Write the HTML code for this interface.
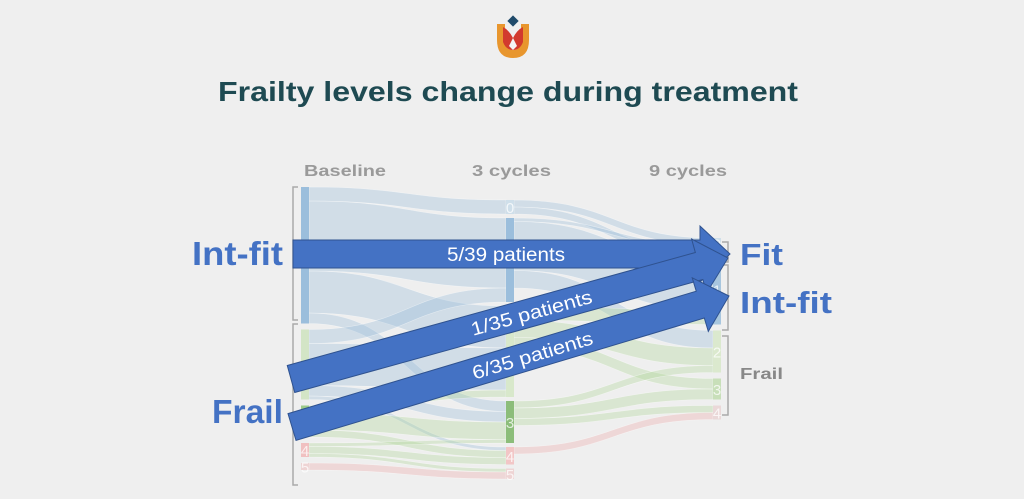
<!DOCTYPE html>
<html><head><meta charset="utf-8"><style>
html,body{margin:0;padding:0;background:#efefef;}
svg{display:block;font-family:"Liberation Sans",sans-serif;}
</style></head><body>
<svg id="chart" width="1024" height="499" viewBox="0 0 1024 499" xmlns="http://www.w3.org/2000/svg">
<rect width="1024" height="499" fill="#efefef"/>
<g>
  <path d="M497 24 L505 24 L505 40 Q505 50 513 50 Q521 50 521 40 L521 24 L529 24 L529 40 Q529 58 513 58 Q497 58 497 40 Z" fill="#e8962e"/>
  <path d="M503 27 Q509 30 513 38 Q517 30 523 27 L523 42 Q520 50 513 50 Q506 50 503 42 Z" fill="#d23a2e"/>
  <path d="M513 38 L509 46 L513 50 L517 46 Z" fill="#f5f5f5"/>
  <rect x="509" y="17" width="8" height="8" transform="rotate(45 513 21)" fill="#1f4a6a"/>
</g>
<text x="218" y="101" font-size="28" font-weight="bold" fill="#1e4a52" textLength="580" lengthAdjust="spacingAndGlyphs">Frailty levels change during treatment</text>
<g id="headers" fill="#9a9a9a" font-size="16" font-weight="bold">
  <text x="304" y="176" textLength="82" lengthAdjust="spacingAndGlyphs">Baseline</text>
  <text x="472" y="176" textLength="79" lengthAdjust="spacingAndGlyphs">3 cycles</text>
  <text x="649" y="176" textLength="78" lengthAdjust="spacingAndGlyphs">9 cycles</text>
</g>
<g id="flows"></g>
<g id="nodes"></g>
<g fill="none" stroke="#aaa" stroke-width="1.5">
  <path d="M298 187 H293 V320 H298"/>
  <path d="M298 324 H293 V485 H298"/>
  <path d="M722 242 H728 V262 H722"/>
  <path d="M722 265 H728 V330 H722"/>
  <path d="M722 336 H728 V415 H722"/>
</g>
<g id="arrows"></g>
<g font-weight="bold" fill="#4472c4">
  <text x="192" y="265" font-size="33" textLength="91" lengthAdjust="spacingAndGlyphs">Int-fit</text>
  <text x="212" y="423" font-size="33" textLength="71" lengthAdjust="spacingAndGlyphs">Frail</text>
  <text x="740" y="265" font-size="31" textLength="43" lengthAdjust="spacingAndGlyphs">Fit</text>
  <text x="740" y="313" font-size="31" textLength="92" lengthAdjust="spacingAndGlyphs">Int-fit</text>
</g>
<text x="740" y="379" font-size="16" font-weight="bold" fill="#888" textLength="43" lengthAdjust="spacingAndGlyphs">Frail</text>
</svg>
<script>
const NS='http://www.w3.org/2000/svg';
// node values (patients) per column
const baselineNodes=['1','2','3','4','5'];
const baselineValues=[39,20,9,4,2];
const cycle3Nodes=['0','1','2','3','4','5'];
const cycle3Values=[4,24,26,12,5,3];
const cycle9Nodes=['0','1','2','3','4'];
const cycle9Values=[3,20,12,6,4];
// flows: source index, target index, value
const flowsA_src=[0,0,0,0,1,1,1,1,2,2,2,3,3,3,4];
const flowsA_tgt=[0,1,2,3,1,2,3,4,2,3,4,3,4,5,5];
const flowsA_val=[4,20,12,3,4,12,3,1,2,5,2,1,2,1,2];
const flowsB_src=[0,0,1,1,1,2,2,2,3,3,3,4];
const flowsB_tgt=[0,1,0,1,2,1,2,3,2,3,4,4];
const flowsB_val=[2,2,1,14,5,4,5,3,2,3,2,2];
const arrowLabels=['5/39 patients','1/35 patients','6/35 patients'];

const S=3.5;
const colX=[305,510,717];
const colTop=[187,200,238];
const colGap=[6,4,6];
const nodeColors=[['#9bbedc','#d3e5c6','#9cca8a','#f0c0c0','#eed4d4'],
 ['#cfdfea','#9bbedc','#d8e8cb','#8cbd7a','#f2c6c6','#eed4d4'],
 ['#cfdfea','#a8c6de','#dbe9ce','#c8dfb9','#ead8d8']];
function flowColor(i){return i<=1?'rgba(150,185,215,0.33)':(i<=3?'rgba(170,210,145,0.32)':'rgba(235,160,160,0.3)');}
function layout(vals,c){let y=colTop[c];return vals.map(v=>{const o={y:y,h:v*S};y+=v*S+colGap[c];return o;});}
const cols=[layout(baselineValues,0),layout(cycle3Values,1),layout(cycle9Values,2)];
const fg=document.getElementById('flows'),ng=document.getElementById('nodes');
function drawFlows(src,tgt,val,c,tag){
  const outOff=cols[c].map(()=>0),inOff=cols[c+1].map(()=>0);
  const x0=colX[c]+4,x1=colX[c+1]-4,mx=(x0+x1)/2;
  src.forEach((s,i)=>{
    const t=tgt[i],h=val[i]*S;
    const y0=cols[c][s].y+outOff[s],y1=cols[c+1][t].y+inOff[t];
    outOff[s]+=h;inOff[t]+=h;
    const p=document.createElementNS(NS,'path');
    p.setAttribute('d',`M${x0} ${y0} C${mx} ${y0} ${mx} ${y1} ${x1} ${y1} L${x1} ${y1+h} C${mx} ${y1+h} ${mx} ${y0+h} ${x0} ${y0+h} Z`);
    p.setAttribute('fill',flowColor(s));
    p.setAttribute('stroke','rgba(255,255,255,0.5)');p.setAttribute('stroke-width','0.6');
    
    
    fg.appendChild(p);
  });
}
drawFlows(flowsA_src,flowsA_tgt,flowsA_val,0,'baseline-to-3cycles');
drawFlows(flowsB_src,flowsB_tgt,flowsB_val,1,'3cycles-to-9cycles');
const labelsAll=[baselineNodes,cycle3Nodes,cycle9Nodes];
cols.forEach((col,c)=>col.forEach((n,i)=>{
  const r=document.createElementNS(NS,'rect');
  r.setAttribute('x',colX[c]-4);r.setAttribute('y',n.y);r.setAttribute('width',8);r.setAttribute('height',n.h);
  r.setAttribute('fill',nodeColors[c][i]);
  
  
  ng.appendChild(r);
  const t=document.createElementNS(NS,'text');
  t.setAttribute('x',colX[c]);t.setAttribute('y',n.y+n.h/2+6);t.setAttribute('text-anchor','middle');
  t.setAttribute('font-size','15');t.setAttribute('fill','rgba(255,255,255,0.75)');
  t.textContent=labelsAll[c][i];
  
  
  ng.appendChild(t);
}));
// arrows
const ag=document.getElementById('arrows');
const arrowGeom=[[293,254,730,254],[291,379,728,258],[292,427,729,296]];
arrowGeom.forEach((g,i)=>{
  const [xa,ya,xb,yb]=g,ang=Math.atan2(yb-ya,xb-xa)*180/Math.PI,L=Math.hypot(xb-xa,yb-ya);
  const w=28,hw=28,hl=30;
  const grp=document.createElementNS(NS,'g');
  grp.setAttribute('transform',`translate(${xa} ${ya}) rotate(${ang})`);
  
  
  const p=document.createElementNS(NS,'path');
  p.setAttribute('d',`M0 ${-w/2} L${L-hl} ${-w/2} L${L-hl} ${-hw} L${L} 0 L${L-hl} ${hw} L${L-hl} ${w/2} L0 ${w/2} Z`);
  p.setAttribute('fill','#4472c4');p.setAttribute('stroke','#2f528f');p.setAttribute('stroke-width','1');
  grp.appendChild(p);
  const t=document.createElementNS(NS,'text');
  t.setAttribute('x',i===0?(506-xa):L*0.55);t.setAttribute('y',7);t.setAttribute('text-anchor','middle');
  t.setAttribute('font-size','19');t.setAttribute('fill','#fff');
  t.setAttribute('textLength',i===0?'118':'125');t.setAttribute('lengthAdjust','spacingAndGlyphs');
  t.textContent=arrowLabels[i];
  
  
  grp.appendChild(t);
  ag.appendChild(grp);
});
</script>
</body></html>
